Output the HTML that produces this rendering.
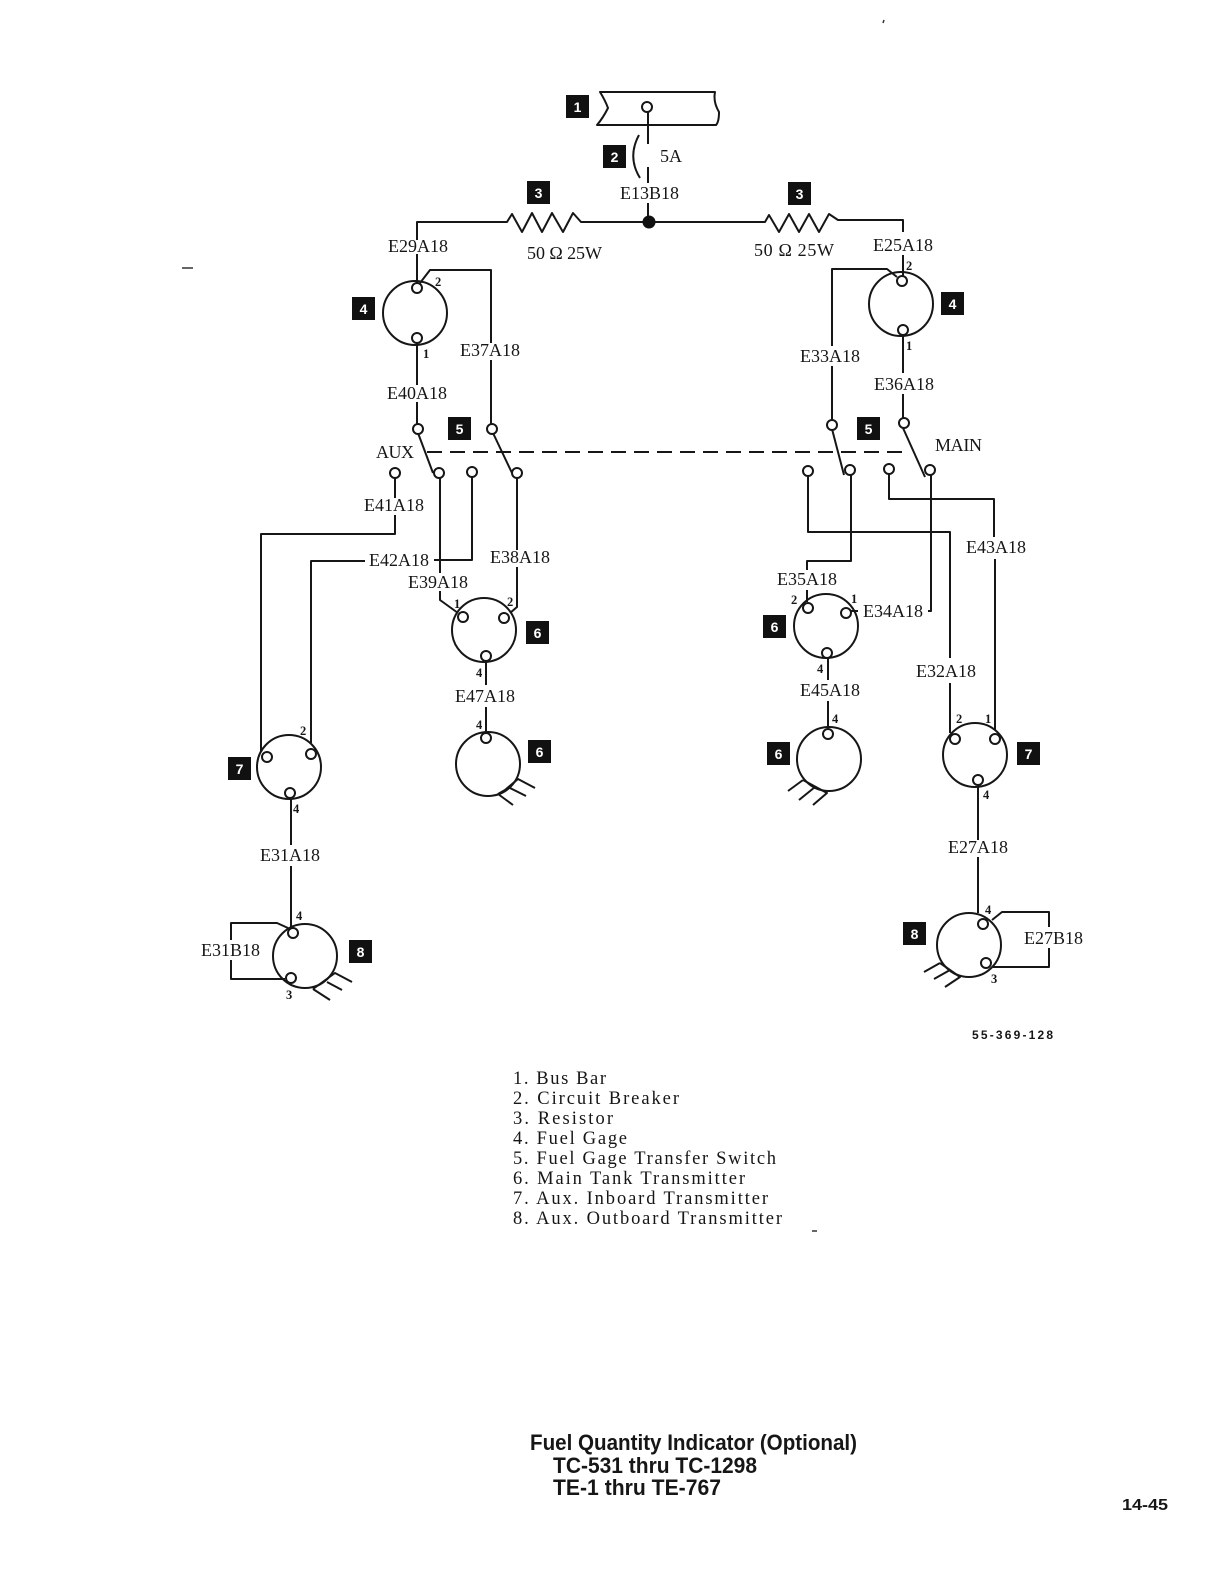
<!DOCTYPE html>
<html><head><meta charset="utf-8"><style>
html,body{margin:0;padding:0;background:#fff}
svg{display:block}
text{font-family:"Liberation Serif",serif;fill:#161616}
.l{font-size:18px}
.n{font-family:"Liberation Sans",sans-serif;font-size:12.5px;font-weight:bold}
.g{font-size:18.5px}
.t{font-family:"Liberation Sans",sans-serif;font-size:22px;font-weight:bold}
.k{fill:#111}
.w{fill:#fff;font-family:"Liberation Sans",sans-serif;font-size:14px;font-weight:bold}
</style></head><body>
<svg width="1220" height="1584" viewBox="0 0 1220 1584" xmlns="http://www.w3.org/2000/svg">
<rect width="1220" height="1584" fill="#fff"/>
<g fill="none" stroke="#161616" stroke-width="2" stroke-linejoin="round">
<!-- bus bar -->
<path d="M600 92H715Q713 102 719 112Q719 122 716 125H597Q603 118 608 108Q605 100 600 92Z"/>
<path d="M648 112V144M648 167V183M648 203V222"/>
<path d="M639 135Q627 157 640 178"/>
<!-- main line with resistors -->
<path d="M417 240V222H507L512 214 522 232 532 213 542 232 552 213 563 232 573 213 581 222H765L769 215 779 232 789 214 799 232 809 214 819 232 829 214 838 220H903V232"/>
<!-- left gage -->
<path d="M417 254V283M420 283L430 270H491V343M491 360V424M417 343V385M417 402V424"/>
<!-- right gage -->
<path d="M903 255V276M897 277L887 269H832V346M832 366V421M903 335V373M903 394V419"/>
<!-- left switch -->
<path d="M418 433L433 473M493 433L512 473"/>
<path d="M395 478V498M395 515V534H261V752"/>
<path d="M440 478V573M440 591V600L458 613"/>
<path d="M472 477V560H434"/>
<path d="M365 561H311V743"/>
<path d="M517 478V550M517 567V607L510 613"/>
<!-- left 6 -->
<path d="M486 660V685M486 707V733"/>
<path d="M505 790L518 779 535 788M508 787L526 796M498 794L513 805M498 794L505 790"/>
<!-- left 7 / 8 -->
<path d="M291 798V845M291 866V927"/>
<path d="M288 928L277 923H231V940M231 960V979H285"/>
<path d="M313 989L335 973 352 982M327 982L342 990M313 989L330 1000"/>
<!-- right switch -->
<path d="M832 429L844 475M903 428L925 477"/>
<path d="M808 476V532H950V658M950 683V733"/>
<path d="M851 475V561H807V570M807 590V602"/>
<path d="M889 474V499H994V537M995 559V730"/>
<path d="M931 475V611H928"/>
<path d="M850 611H858"/>
<!-- right 6 -->
<path d="M828 658V680M828 701V728"/>
<path d="M803 780L827 793 813 805M803 780L788 791M815 787L799 800"/>
<!-- right 7 / 8 -->
<path d="M978 785V840M978 857V913"/>
<path d="M992 920L1002 912H1049V927M1049 948V967H993"/>
<path d="M940 963L960 977 945 987M940 963L924 972M950 970L934 979"/>
<!-- circles -->
<circle cx="415" cy="313" r="32"/>
<circle cx="901" cy="304" r="32"/>
<circle cx="484" cy="630" r="32"/>
<circle cx="826" cy="626" r="32"/>
<circle cx="488" cy="764" r="32"/>
<circle cx="829" cy="759" r="32"/>
<circle cx="289" cy="767" r="32"/>
<circle cx="975" cy="755" r="32"/>
<circle cx="305" cy="956" r="32"/>
<circle cx="969" cy="945" r="32"/>
</g>
<!-- pins -->
<g fill="#fff" stroke="#161616" stroke-width="2">
<circle cx="647" cy="107" r="5"/>
<circle cx="417" cy="288" r="5"/><circle cx="417" cy="338" r="5"/>
<circle cx="902" cy="281" r="5"/><circle cx="903" cy="330" r="5"/>
<circle cx="418" cy="429" r="5"/><circle cx="492" cy="429" r="5"/>
<circle cx="395" cy="473" r="5"/><circle cx="439" cy="473" r="5"/><circle cx="472" cy="472" r="5"/><circle cx="517" cy="473" r="5"/>
<circle cx="832" cy="425" r="5"/><circle cx="904" cy="423" r="5"/>
<circle cx="808" cy="471" r="5"/><circle cx="850" cy="470" r="5"/><circle cx="889" cy="469" r="5"/><circle cx="930" cy="470" r="5"/>
<circle cx="463" cy="617" r="5"/><circle cx="504" cy="618" r="5"/><circle cx="486" cy="656" r="5"/>
<circle cx="808" cy="608" r="5"/><circle cx="846" cy="613" r="5"/><circle cx="827" cy="653" r="5"/>
<circle cx="486" cy="738" r="5"/><circle cx="828" cy="734" r="5"/>
<circle cx="267" cy="757" r="5"/><circle cx="311" cy="754" r="5"/><circle cx="290" cy="793" r="5"/>
<circle cx="955" cy="739" r="5"/><circle cx="995" cy="739" r="5"/><circle cx="978" cy="780" r="5"/>
<circle cx="293" cy="933" r="5"/><circle cx="291" cy="978" r="5"/>
<circle cx="983" cy="924" r="5"/><circle cx="986" cy="963" r="5"/>
</g>
<path d="M427 452H910" fill="none" stroke="#161616" stroke-width="2" stroke-dasharray="15 8"/>
<circle cx="649" cy="222" r="6.5" class="k"/>
<!-- number squares -->
<g class="k">
<rect x="566" y="95" width="23" height="23"/>
<rect x="603" y="145" width="23" height="23"/>
<rect x="527" y="181" width="23" height="23"/>
<rect x="788" y="182" width="23" height="23"/>
<rect x="352" y="297" width="23" height="23"/>
<rect x="941" y="292" width="23" height="23"/>
<rect x="448" y="417" width="23" height="23"/>
<rect x="857" y="417" width="23" height="23"/>
<rect x="526" y="621" width="23" height="23"/>
<rect x="763" y="615" width="23" height="23"/>
<rect x="528" y="740" width="23" height="23"/>
<rect x="767" y="742" width="23" height="23"/>
<rect x="228" y="757" width="23" height="23"/>
<rect x="1017" y="742" width="23" height="23"/>
<rect x="349" y="940" width="23" height="23"/>
<rect x="903" y="922" width="23" height="23"/>
</g>
<g text-anchor="middle">
<text class="w" x="577.5" y="112">1</text><text class="w" x="614.5" y="162">2</text>
<text class="w" x="538.5" y="198">3</text><text class="w" x="799.5" y="199">3</text>
<text class="w" x="363.5" y="314">4</text><text class="w" x="952.5" y="309">4</text>
<text class="w" x="459.5" y="434">5</text><text class="w" x="868.5" y="434">5</text>
<text class="w" x="537.5" y="638">6</text><text class="w" x="774.5" y="632">6</text>
<text class="w" x="539.5" y="757">6</text><text class="w" x="778.5" y="759">6</text>
<text class="w" x="239.5" y="774">7</text><text class="w" x="1028.5" y="759">7</text>
<text class="w" x="360.5" y="957">8</text><text class="w" x="914.5" y="939">8</text>
</g>
<!-- wire labels -->
<g class="l">
<text x="660" y="162">5A</text>
<text x="620" y="199">E13B18</text>
<text x="388" y="252">E29A18</text>
<text x="873" y="251">E25A18</text>
<text x="527" y="259" textLength="75">50 Ω 25W</text>
<text x="754" y="256" textLength="80">50 Ω 25W</text>
<text x="460" y="356">E37A18</text>
<text x="800" y="362">E33A18</text>
<text x="387" y="399">E40A18</text>
<text x="874" y="390">E36A18</text>
<text x="376" y="458" textLength="38">AUX</text>
<text x="935" y="451" textLength="47">MAIN</text>
<text x="364" y="511">E41A18</text>
<text x="369" y="566">E42A18</text>
<text x="490" y="563">E38A18</text>
<text x="408" y="588">E39A18</text>
<text x="966" y="553">E43A18</text>
<text x="777" y="585">E35A18</text>
<text x="863" y="617">E34A18</text>
<text x="916" y="677">E32A18</text>
<text x="455" y="702">E47A18</text>
<text x="800" y="696">E45A18</text>
<text x="260" y="861">E31A18</text>
<text x="948" y="853">E27A18</text>
<text x="201" y="956">E31B18</text>
<text x="1024" y="944">E27B18</text>
</g>
<!-- pin numbers -->
<g class="n">
<text x="435" y="286">2</text><text x="423" y="358">1</text>
<text x="906" y="270">2</text><text x="906" y="350">1</text>
<text x="454" y="608">1</text><text x="507" y="606">2</text><text x="476" y="677">4</text><text x="476" y="729">4</text>
<text x="791" y="604">2</text><text x="851" y="603">1</text><text x="817" y="673">4</text><text x="832" y="723">4</text>
<text x="300" y="735">2</text><text x="293" y="813">4</text><text x="296" y="920">4</text><text x="286" y="999">3</text>
<text x="956" y="723">2</text><text x="985" y="723">1</text><text x="983" y="799">4</text><text x="985" y="914">4</text><text x="991" y="983">3</text>
</g>
<text x="972" y="1039" textLength="81" style="font-family:'Liberation Sans',sans-serif;font-size:12px;font-weight:bold">55-369-128</text>
<!-- legend -->
<g class="g">
<text x="513" y="1084" textLength="93">1. Bus Bar</text>
<text x="513" y="1104" textLength="166">2. Circuit Breaker</text>
<text x="513" y="1124" textLength="100">3. Resistor</text>
<text x="513" y="1144" textLength="114">4. Fuel Gage</text>
<text x="513" y="1164" textLength="263">5. Fuel Gage Transfer Switch</text>
<text x="513" y="1184" textLength="232">6. Main Tank Transmitter</text>
<text x="513" y="1204" textLength="255">7. Aux. Inboard Transmitter</text>
<text x="513" y="1224" textLength="269">8. Aux. Outboard Transmitter</text>
</g>
<text class="t" x="530" y="1450" textLength="327" lengthAdjust="spacingAndGlyphs">Fuel Quantity Indicator (Optional)</text>
<text class="t" x="553" y="1473" textLength="204" lengthAdjust="spacingAndGlyphs">TC-531 thru TC-1298</text>
<text class="t" x="553" y="1495" textLength="168" lengthAdjust="spacingAndGlyphs">TE-1 thru TE-767</text>
<text x="1122" y="1510" textLength="46" lengthAdjust="spacingAndGlyphs" style="font-family:'Liberation Sans',sans-serif;font-size:16px;font-weight:bold">14-45</text>
<path d="M182 268H193M812 1231H817M884 20L883 23" stroke="#333" stroke-width="1.5"/>
</svg>
</body></html>
